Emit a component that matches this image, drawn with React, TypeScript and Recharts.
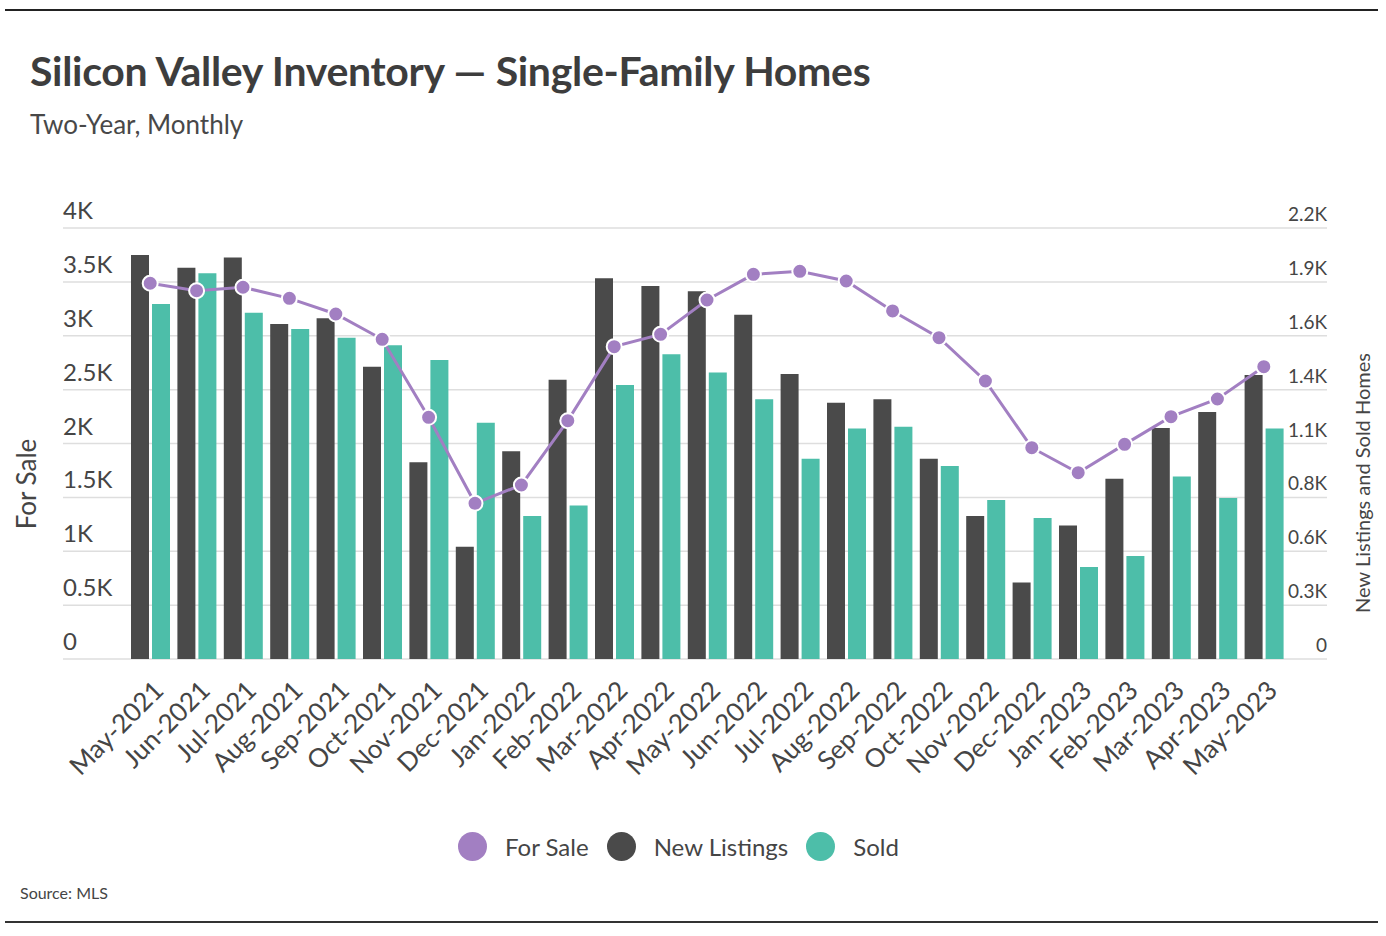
import { Bar, CartesianGrid, ComposedChart, Line, XAxis, YAxis } from 'recharts';

const months = [
  'May-2021', 'Jun-2021', 'Jul-2021', 'Aug-2021', 'Sep-2021', 'Oct-2021', 'Nov-2021', 'Dec-2021',
  'Jan-2022', 'Feb-2022', 'Mar-2022', 'Apr-2022', 'May-2022', 'Jun-2022', 'Jul-2022', 'Aug-2022',
  'Sep-2022', 'Oct-2022', 'Nov-2022', 'Dec-2022', 'Jan-2023', 'Feb-2023', 'Mar-2023', 'Apr-2023',
  'May-2023',
];

const forSale = [
  3487, 3418, 3450, 3347, 3202, 2967, 2243, 1445, 1615, 2212, 2899, 3013, 3332, 3570, 3598, 3508,
  3230, 2982, 2580, 1961, 1729, 1992, 2249, 2413, 2713,
];

const newListings = [
  2062, 1997, 2050, 1710, 1739, 1492, 1004, 573, 1060, 1426, 1943, 1904, 1877, 1757, 1455, 1308,
  1326, 1022, 730, 390, 682, 920, 1179, 1261, 1450,
];

const sold = [
  1812, 1969, 1768, 1684, 1640, 1601, 1526, 1206, 730, 784, 1399, 1555, 1463, 1326, 1022, 1177,
  1186, 985, 811, 720, 470, 526, 931, 822, 1177,
];

const leftTicks = [0, 500, 1000, 1500, 2000, 2500, 3000, 3500, 4000];
const leftTickLabels = ['0', '0.5K', '1K', '1.5K', '2K', '2.5K', '3K', '3.5K', '4K'];
const rightTicks = [0, 275, 550, 825, 1100, 1375, 1650, 1925, 2200];
const rightTickLabels = ['0', '0.3K', '0.6K', '0.8K', '1.1K', '1.4K', '1.6K', '1.9K', '2.2K'];

const rows = months.map((month, i) => ({
  month,
  forSale: forSale[i],
  newListings: newListings[i],
  sold: sold[i],
}));

const FONT = 'Lato, "Open Sans", sans-serif';
const PURPLE = '#a27fc2';
const DARK = '#4a4a4a';
const TEAL = '#4dbea9';
const TEXT = '#454545';

const PLOT_LEFT = 63;
const PLOT_RIGHT = 1327;

const LeftTick = (props: any) => {
  const { y, payload } = props;
  const label = leftTickLabels[leftTicks.indexOf(payload.value)];
  return (
    <text x={PLOT_LEFT} y={y - 9} textAnchor="start" fontSize={24} fill={TEXT} fontFamily={FONT}>
      {label}
    </text>
  );
};

const RightTick = (props: any) => {
  const { y, payload } = props;
  const label = rightTickLabels[rightTicks.indexOf(payload.value)];
  return (
    <text x={PLOT_RIGHT} y={y - 7} textAnchor="end" fontSize={19} fill={TEXT} fontFamily={FONT}>
      {label}
    </text>
  );
};

const MonthTick = (props: any) => {
  const { x, payload } = props;
  const ax = x + 15;
  const ay = 659 + 33;
  return (
    <text
      x={ax}
      y={ay}
      textAnchor="end"
      fontSize={26}
      fill={TEXT}
      fontFamily={FONT}
      transform={`rotate(-45 ${ax} ${ay})`}
    >
      {payload.value}
    </text>
  );
};

const legendItems = [
  { label: 'For Sale', color: PURPLE },
  { label: 'New Listings', color: DARK },
  { label: 'Sold', color: TEAL },
];

export default function App() {
  return (
    <div
      style={{
        position: 'absolute',
        left: 0,
        top: 0,
        width: 1386,
        height: 936,
        background: '#fff',
        fontFamily: FONT,
        color: TEXT,
        overflow: 'hidden',
      }}
    >
      <div style={{ position: 'absolute', left: 5, top: 9, width: 1373, height: 2, background: '#222' }} />
      <div style={{ position: 'absolute', left: 5, top: 921, width: 1373, height: 2, background: '#333' }} />

      <div
        style={{
          position: 'absolute',
          left: 30,
          top: 46,
          fontSize: 41,
          fontWeight: 700,
          color: '#3d3d3d',
          whiteSpace: 'nowrap',
          letterSpacing: -0.3,
        }}
      >
        Silicon Valley Inventory — Single-Family Homes
      </div>
      <div style={{ position: 'absolute', left: 30, top: 108, fontSize: 26, color: '#484848', whiteSpace: 'nowrap' }}>
        Two-Year, Monthly
      </div>

      <div style={{ position: 'absolute', left: 0, top: 0 }}>
        <ComposedChart
          width={1386}
          height={800}
          data={rows}
          margin={{ top: 228, right: 29, bottom: 41, left: 33 }}
          barCategoryGap={4}
          barGap={3}
        >
          <CartesianGrid vertical={false} stroke="#dedede" strokeWidth={1.5} yAxisId="left" />
          <XAxis
            dataKey="month"
            interval={0}
            height={100}
            padding={{ left: 64, right: 40 }}
            axisLine={false}
            tickLine={false}
            tick={<MonthTick />}
          />
          <YAxis
            yAxisId="left"
            orientation="left"
            width={30}
            domain={[0, 4000]}
            ticks={leftTicks}
            axisLine={false}
            tickLine={false}
            tick={<LeftTick />}
          />
          <YAxis
            yAxisId="right"
            orientation="right"
            width={30}
            domain={[0, 2200]}
            ticks={rightTicks}
            axisLine={false}
            tickLine={false}
            tick={<RightTick />}
          />
          <Bar yAxisId="right" dataKey="newListings" fill={DARK} isAnimationActive={false} />
          <Bar yAxisId="right" dataKey="sold" fill={TEAL} isAnimationActive={false} />
          <Line
            yAxisId="left"
            type="linear"
            dataKey="forSale"
            stroke={PURPLE}
            strokeWidth={3}
            dot={{ r: 7.5, fill: PURPLE, stroke: '#fff', strokeWidth: 2 }}
            isAnimationActive={false}
          />
        </ComposedChart>
      </div>

      <div
        style={{
          position: 'absolute',
          left: 26,
          top: 484,
          transform: 'translate(-50%, -50%) rotate(-90deg)',
          fontSize: 26,
          whiteSpace: 'nowrap',
        }}
      >
        For Sale
      </div>
      <div
        style={{
          position: 'absolute',
          left: 1362,
          top: 483,
          transform: 'translate(-50%, -50%) rotate(-90deg)',
          fontSize: 20,
          whiteSpace: 'nowrap',
        }}
      >
        New Listings and Sold Homes
      </div>

      <div
        style={{
          position: 'absolute',
          left: 458,
          top: 830,
          display: 'flex',
          alignItems: 'center',
          height: 32,
        }}
      >
        {legendItems.map((item) => (
          <div key={item.label} style={{ display: 'flex', alignItems: 'center', marginRight: 18 }}>
            <div style={{ width: 29, height: 29, borderRadius: '50%', background: item.color, marginRight: 18 }} />
            <span style={{ fontSize: 24, whiteSpace: 'nowrap' }}>{item.label}</span>
          </div>
        ))}
      </div>

      <div style={{ position: 'absolute', left: 20, top: 883, fontSize: 16, whiteSpace: 'nowrap' }}>Source: MLS</div>
    </div>
  );
}
